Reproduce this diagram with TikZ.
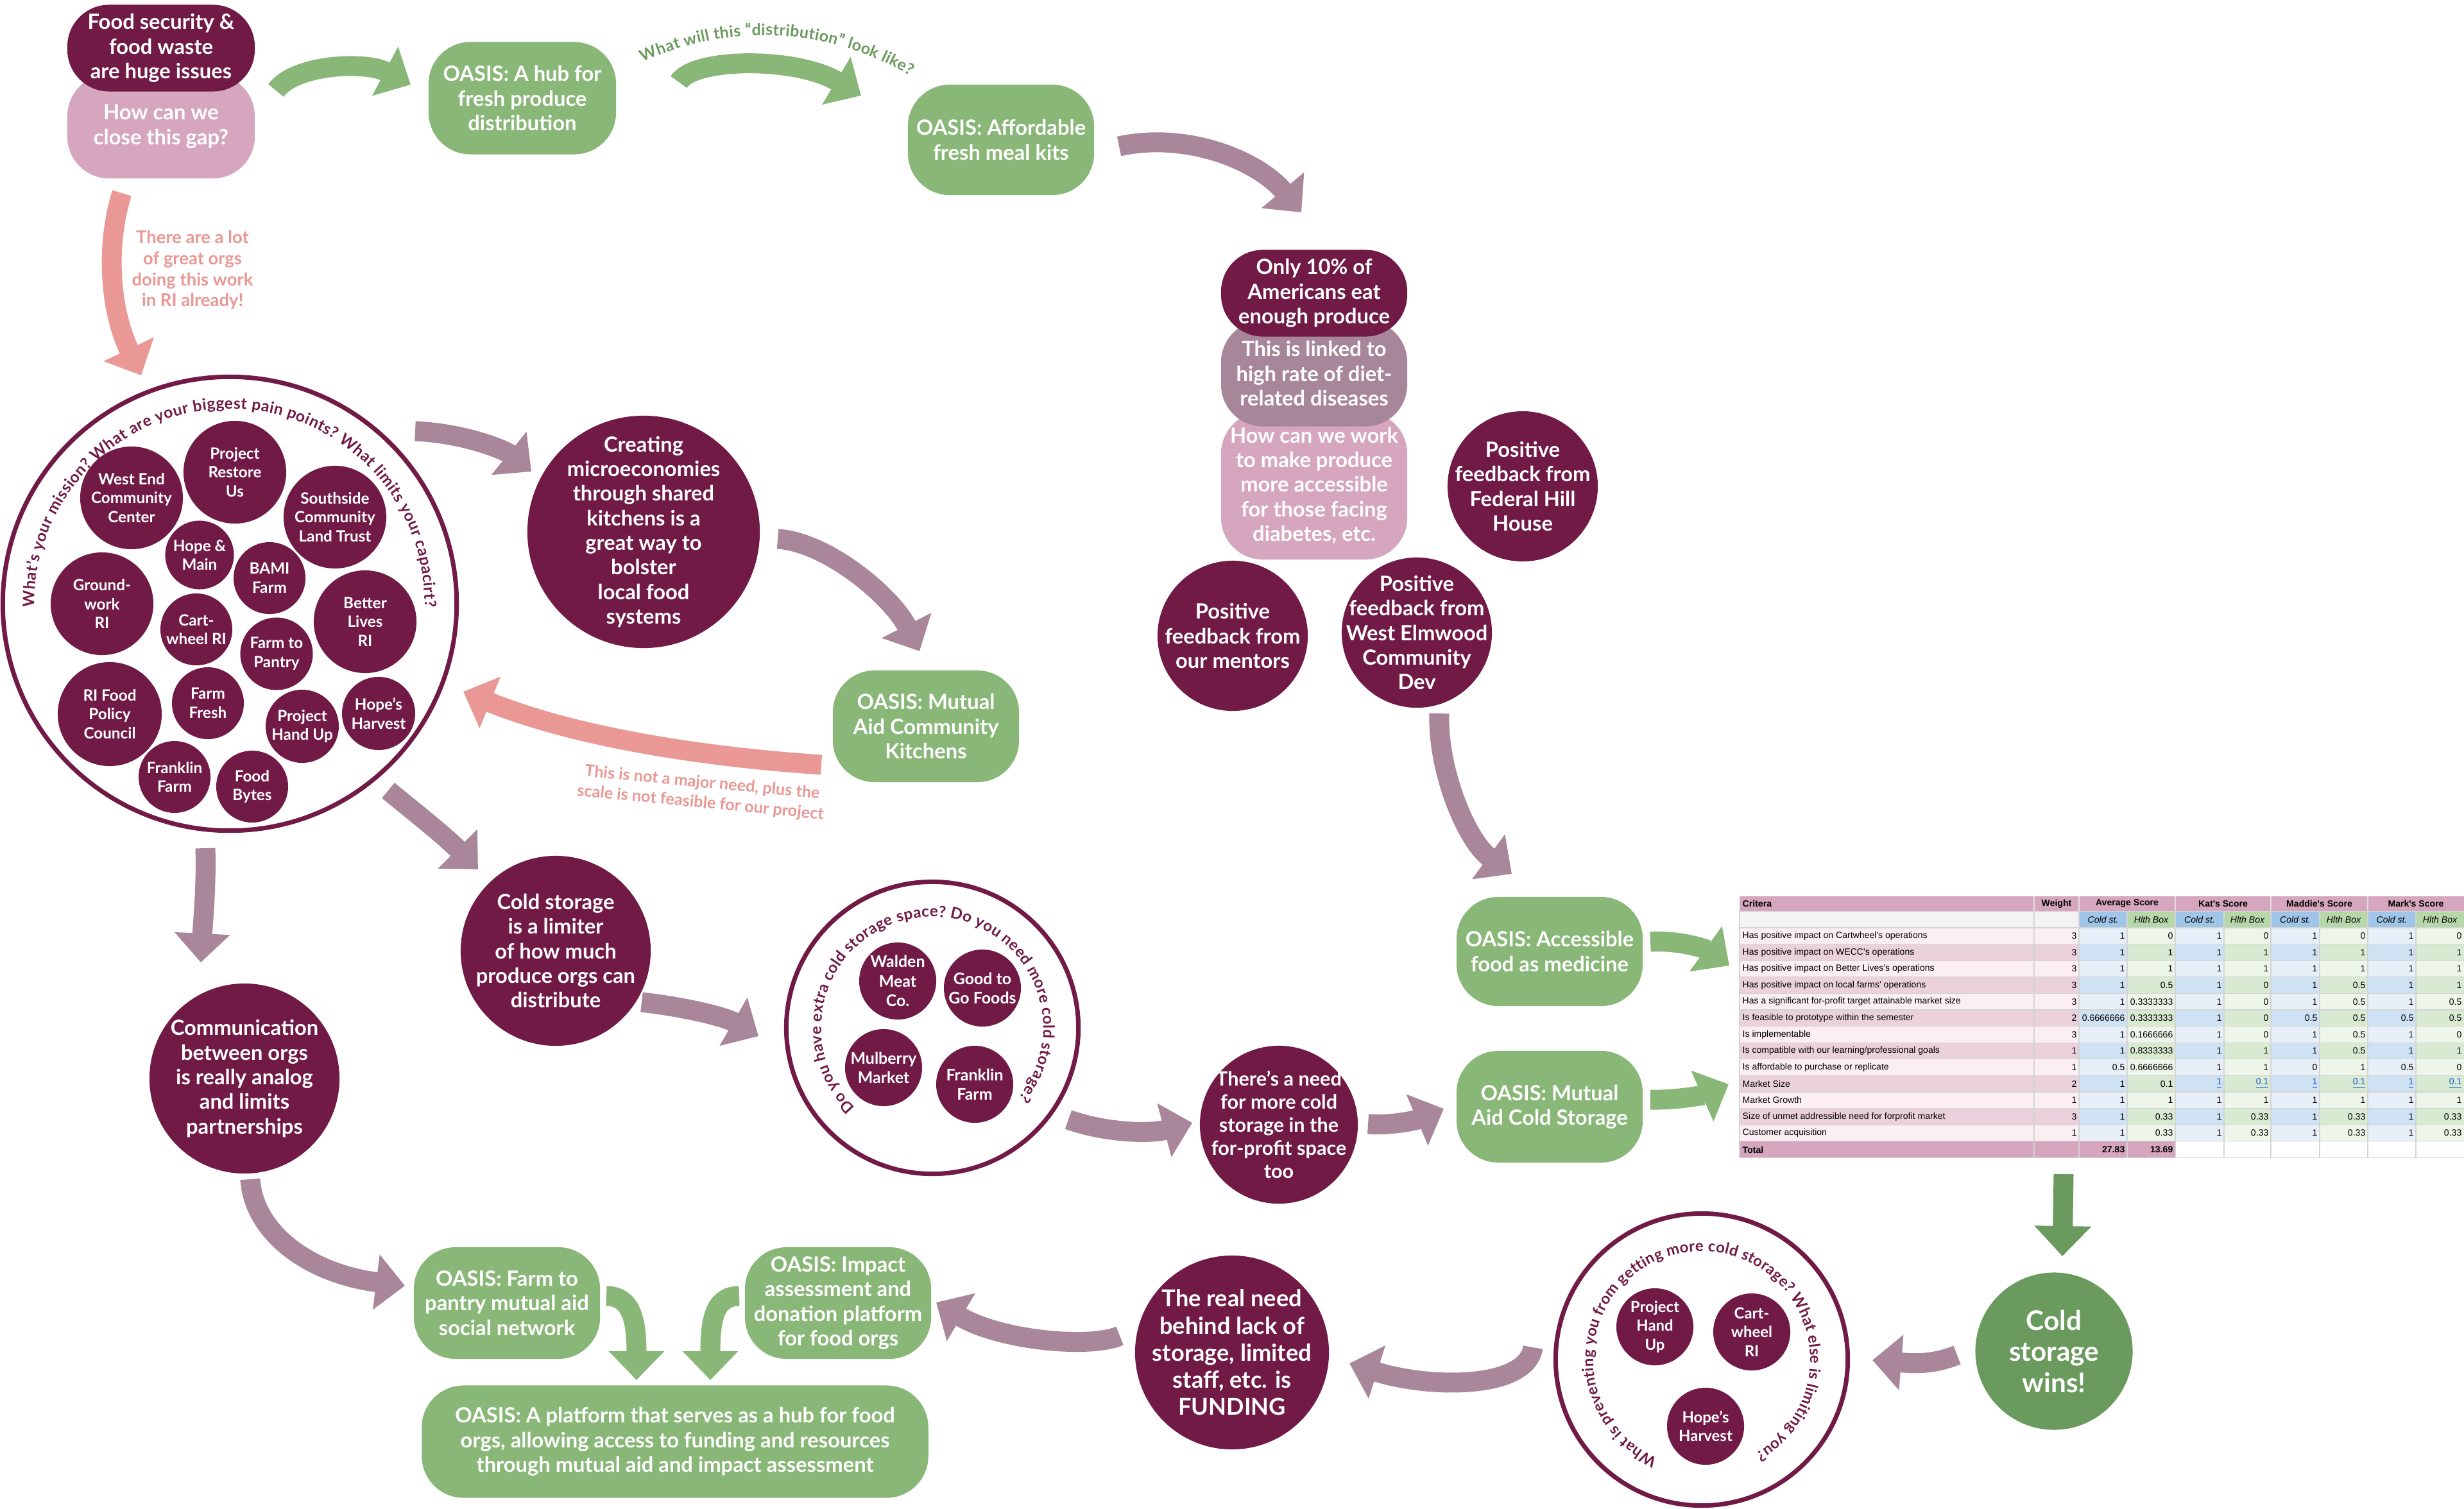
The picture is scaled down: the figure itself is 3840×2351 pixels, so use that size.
\documentclass[tikz,border=0pt]{standalone}
\usepackage{fontspec}
\setmainfont{Lato}
\newfontfamily\tblfont{Liberation Sans}
\usetikzlibrary{arrows.meta,decorations.text,calc}
\definecolor{maroon}{HTML}{701A45}
\definecolor{pinkl}{HTML}{D5A6BD}
\definecolor{mauvebox}{HTML}{A8869A}
\definecolor{arrowm}{HTML}{A98699}
\definecolor{gr}{HTML}{89B777}
\definecolor{dgr}{HTML}{6B9A5E}
\definecolor{salmon}{HTML}{E99896}
\definecolor{rowA}{HTML}{FBEFF4}
\definecolor{rowB}{HTML}{EAD1DC}
\definecolor{blA}{HTML}{E7F0F9}
\definecolor{blB}{HTML}{CFE2F3}
\definecolor{gnA}{HTML}{EEF6EA}
\definecolor{gnB}{HTML}{D9EAD3}
\definecolor{blH}{HTML}{9FC5E8}
\definecolor{gnH}{HTML}{B6D7A8}
\definecolor{subg}{HTML}{F3F3F3}
\definecolor{gridc}{HTML}{D4D4D4}
\definecolor{linkc}{HTML}{1155CC}
\newcommand\ovl[1]{#1\hskip0pt plus 1fill\relax}
\newcommand\lk[1]{\textcolor{linkc}{\underline{#1}}}
\newcommand\myfz[2]{\fontsize{#1}{#2}\selectfont\bfseries}
\pgfdeclarelayer{back}\pgfdeclarelayer{bg}\pgfsetlayers{back,bg,main}
\tikzset{
  rbox/.style={rectangle, rounded corners=0.65cm, inner sep=0pt, text=white, align=center,
    font=\myfz{9.3}{10.9}, minimum width=2.9cm, minimum height=1.74cm},
  greenbox/.style={rbox, fill=gr},
  bub/.style={circle, fill=maroon, inner sep=0pt},
  bt/.style={text=white, align=center, inner sep=0pt, font=\myfz{9.3}{10.9}},
  ot/.style={bt, font=\myfz{6.9}{8.4}},
  ring/.style={circle, draw=maroon, line width=0.07cm, inner sep=0pt},
  arr/.style={line width=0.31cm, -{Triangle[length=0.45cm,width=0.84cm]}},
  marr/.style={arr, draw=arrowm},
  garr/.style={arr, draw=gr},
  dgarr/.style={line width=0.31cm, draw=dgr, -{Triangle[length=0.47cm,width=0.86cm,color=dgr,fill=dgr]}},
  sarr/.style={arr, draw=salmon},
  tc/.style={anchor=west, inner sep=0pt, font=\tblfont\fontsize{4}{4.8}\selectfont},
  tv/.style={anchor=east, inner sep=0pt, text width=0.68cm, align=flush right, font=\tblfont\fontsize{4}{4.8}\selectfont},
  th/.style={inner sep=0pt, font=\tblfont\fontsize{4}{4.8}\selectfont\bfseries},
  ts/.style={inner sep=0pt, font=\tblfont\fontsize{4}{4.8}\selectfont\itshape},
  lab/.style={inner sep=0pt, align=center, text=salmon}
}
\begin{document}
\begin{tikzpicture}[x=0.01cm, y=-0.01cm]
\useasboundingbox (0,0) rectangle (3840,2351);
\begin{pgfonlayer}{back}\fill[white] (0,0) rectangle (3840,2351);\end{pgfonlayer}

% ---------- top left ----------
\node[rbox, fill=pinkl, minimum width=2.92cm, minimum height=1.62cm] (n2) at (251,197) {How can we\\close this gap?};
\node[rbox, fill=maroon, minimum width=2.92cm, minimum height=1.35cm] (n1) at (251,75) {Food security \&\\food waste\\are huge issues};
\node[greenbox, minimum width=2.92cm, minimum height=1.75cm] (g1) at (814,153) {OASIS: A hub for\\fresh produce\\distribution};
\node[greenbox, minimum height=1.72cm] (g2) at (1560,218) {OASIS: Affordable\\fresh meal kits};
\node[lab, font=\myfz{7.8}{9.3}] (l1) at (300,421) {There are a lot\\of great orgs\\doing this work\\in RI already!};

% ---------- stack ----------
\node[rbox, fill=pinkl, minimum height=2.3cm] (s3) at (2048,757) {How can we work\\to make produce\\more accessible\\for those facing\\diabetes, etc.};
\node[rbox, fill=mauvebox, minimum height=1.65cm] (s2) at (2048,582) {This is linked to\\high rate of diet-\\related diseases};
\node[rbox, fill=maroon, minimum height=1.35cm] (s1) at (2048,457) {Only 10\% of\\Americans eat\\enough produce};

\node[bub, minimum size=2.34cm, label={[bt]center:{Positive\\feedback from\\Federal Hill\\House}}] (fb1) at (2373,758) {};
\node[bub, minimum size=2.34cm, label={[bt]center:{Positive\\feedback from\\our mentors}}] (fb2) at (1921,991) {};
\node[bub, minimum size=2.34cm, label={[bt]center:{Positive\\feedback from\\West Elmwood\\Community\\Dev}}] (fb3) at (2208,986) {};

% ---------- big circle ----------
\node[ring, minimum size=7.07cm] (BC) at (358,941) {};
\node[bub, minimum size=1.6cm, label={[ot]center:{West End\\Community\\Center}}] (o1) at (205,776) {};
\node[bub, minimum size=1.6cm, label={[ot]center:{Project\\Restore\\Us}}] (o2) at (366,736) {};
\node[bub, minimum size=1.6cm, label={[ot]center:{Southside\\Community\\Land Trust}}] (o3) at (522,806) {};
\node[bub, minimum size=1.07cm, label={[ot]center:{Hope \&\\Main}}] (o4) at (311,865) {};
\node[bub, minimum size=1.12cm, label={[ot]center:{BAMI\\Farm}}] (o5) at (420,901) {};
\node[bub, minimum size=1.6cm, label={[ot]center:{Ground-\\work\\RI}}] (o6) at (159,941) {};
\node[bub, minimum size=1.12cm, label={[ot]center:{Cart-\\wheel RI}}] (o7) at (306,981) {};
\node[bub, minimum size=1.13cm, label={[ot]center:{Farm to\\Pantry}}] (o8) at (431,1019) {};
\node[bub, minimum size=1.6cm, label={[ot]center:{Better\\Lives\\RI}}] (o9) at (569,969) {};
\node[bub, minimum size=1.62cm, label={[ot]center:{RI Food\\Policy\\Council}}] (o10) at (171,1113) {};
\node[bub, minimum size=1.12cm, label={[ot]center:{Farm\\Fresh}}] (o11) at (324,1096) {};
\node[bub, minimum size=1.14cm, label={[ot]center:{Project\\Hand Up}}] (o12) at (471,1132) {};
\node[bub, minimum size=1.14cm, label={[ot]center:{Hope’s\\Harvest}}] (o13) at (590,1112) {};
\node[bub, minimum size=1.12cm, label={[ot]center:{Franklin\\Farm}}] (o14) at (272,1211) {};
\node[bub, minimum size=1.12cm, label={[ot]center:{Food\\Bytes}}] (o15) at (393,1226) {};
\path[decorate, decoration={text along path, text align=fit to path, text color=maroon,
  text={|\myfz{7.0}{9}|What’s your mission? What are your biggest pain points? What limits your capacirt?}}]
  ([shift={(-181:304)}]BC.center) arc[start angle=-181, end angle=1, radius=304];

% ---------- middle ----------
\node[bub, minimum size=3.62cm, label={[bt]center:{Creating\\microeconomies\\through shared\\kitchens is a\\great way to\\bolster\\local food\\systems}}] (cm) at (1003,829) {};
\node[greenbox] (mk) at (1443,1132) {OASIS: Mutual\\Aid Community\\Kitchens};
\node[lab, font=\myfz{7.2}{9}, rotate=-5.5] (l2) at (1093,1236) {This is not a major need, plus the\\scale is not feasible for our project};
\node[bub, minimum size=2.96cm, label={[bt]center:{Cold storage\\is a limiter\\of how much\\produce orgs can\\distribute}}] (cl) at (866,1482) {};
\node[bub, minimum size=2.96cm, label={[bt]center:{Communication\\between orgs\\is really analog\\and limits\\partnerships}}] (com) at (381,1681) {};

\node[ring, minimum size=4.55cm] (CS) at (1453,1602) {};
\node[bub, minimum size=1.2cm, label={[ot, font=\myfz{7.1}{8.6}]center:{Walden\\Meat\\Co.}}] (w1) at (1399,1529) {};
\node[bub, minimum size=1.2cm, label={[ot, font=\myfz{7.1}{8.6}]center:{Good to\\Go Foods}}] (w2) at (1531,1540) {};
\node[bub, minimum size=1.2cm, label={[ot, font=\myfz{7.1}{8.6}]center:{Mulberry\\Market}}] (w3) at (1377,1664) {};
\node[bub, minimum size=1.2cm, label={[ot, font=\myfz{7.1}{8.6}]center:{Franklin\\Farm}}] (w4) at (1519,1690) {};
\path[decorate, decoration={text along path, text align=fit to path, text color=maroon,
  text={|\myfz{6.9}{9}|Do you have extra cold storage space? Do you need more cold storage?}}]
  ([shift={(-226:173)}]CS.center) arc[start angle=-226, end angle=39, radius=173];

\node[bub, minimum size=2.46cm, label={[bt, font=\myfz{8.7}{10.2}]center:{There’s a need\\for more cold\\storage in the\\for-profit space\\too}}] (nd) at (1993,1753) {};
\node[greenbox, minimum height=1.70cm] (af) at (2415,1483) {OASIS: Accessible\\food as medicine};
\node[greenbox] (mc) at (2415,1725) {OASIS: Mutual\\Aid Cold Storage};

% ---------- bottom ----------
\node[bub, fill=dgr, minimum size=2.45cm, label={[bt, font=\myfz{12}{13.8}]center:{Cold\\storage\\wins!}}] (win) at (3201,2106) {};
\node[ring, minimum size=4.55cm] (C3) at (2652,2119) {};
\node[bub, minimum size=1.2cm, label={[ot, font=\myfz{6.8}{8.4}]center:{Project\\Hand\\Up}}] (p1) at (2579,2068) {};
\node[bub, minimum size=1.2cm, label={[ot, font=\myfz{6.8}{8.4}]center:{Cart-\\wheel\\RI}}] (p2) at (2730,2076) {};
\node[bub, minimum size=1.2cm, label={[ot, font=\myfz{6.8}{8.4}]center:{Hope’s\\Harvest}}] (p3) at (2658,2223) {};
\path[decorate, decoration={text along path, text align=fit to path, text color=maroon,
  text={|\myfz{6.8}{9}|What is preventing you from getting more cold storage? What else is limiting you?}}]
  ([shift={(-246:169)}]C3.center) arc[start angle=-246, end angle=60, radius=169];
\node[bub, minimum size=3.02cm, label={[bt, font=\myfz{10.3}{12}]center:{The real need\\behind lack of\\storage, limited\\staff, etc. is\\FUNDING}}] (rn) at (1920,2108) {};
\node[greenbox] (ia) at (1306,2031) {OASIS: Impact\\assessment and\\donation platform\\for food orgs};
\node[greenbox] (fp) at (790,2031) {OASIS: Farm to\\pantry mutual aid\\social network};
\node[greenbox, minimum width=7.89cm, minimum height=1.75cm] (pl) at (1052,2247) {OASIS: A platform that serves as a hub for food\\orgs, allowing access to funding and resources\\through mutual aid and impact assessment};

% ---------- green arrow label ----------
\path[decorate, decoration={text along path, text align=fit to path, text color=dgr,
  text={|\myfz{7.1}{9}|What will this “distribution” look like?}}]
  ([shift={(-115:445)}]1190,500) arc[start angle=-115, end angle=-59, radius=445];

% ---------- table ----------
\node[inner sep=0pt, minimum width=11.29cm, minimum height=4.08cm, anchor=north west] (tbl) at (2711,1397) {};
\foreach \crit/\w/\va/\vb/\vc/\vd/\ve/\vf/\vg/\vh [count=\i] in {
 Has positive impact on Cartwheel's operations/3/1/0/1/0/1/0/1/0,
 Has positive impact on WECC's operations/3/1/1/1/1/1/1/1/1,
 Has positive impact on Better Lives's operations/3/1/1/1/1/1/1/1/1,
 Has positive impact on local farms' operations/3/1/0.5/1/0/1/0.5/1/1,
 Has a significant for-profit target attainable market size/3/1/\ovl{0.3333333}/1/0/1/0.5/1/0.5,
 Is feasible to prototype within the semester/2/\ovl{0.6666666}/\ovl{0.3333333}/1/0/0.5/0.5/0.5/0.5,
 Is implementable/3/1/\ovl{0.1666666}/1/0/1/0.5/1/0,
 {Is compatible with our learning/professional goals}/1/1/\ovl{0.8333333}/1/1/1/0.5/1/1,
 Is affordable to purchase or replicate/1/0.5/\ovl{0.6666666}/1/1/0/1/0.5/0,
 Market Size/2/1/0.1/\lk{1}/\lk{0.1}/\lk{1}/\lk{0.1}/\lk{1}/\lk{0.1},
 Market Growth/1/\ovl{\hspace*{0.12cm}1}/\ovl{\hspace*{0.12cm}1}/1/1/1/1/1/1,
 Size of unmet addressible need for forprofit market/3/1/0.33/1/0.33/1/0.33/1/0.33,
 Customer acquisition/1/1/0.33/1/0.33/1/0.33/1/0.33}{
  \pgfmathsetmacro\yt{1446+(\i-1)*25.6}
  \pgfmathsetmacro\yb{\yt+25.6}
  \pgfmathsetmacro\yc{\yt+12.8}
  \ifodd\i\relax \def\cp{rowA}\def\cb{blA}\def\cg{gnA}\else \def\cp{rowB}\def\cb{blB}\def\cg{gnB}\fi
  \fill[\cp] (2711,\yt) rectangle (3240,\yb);
  \foreach \xl/\xr in {3240/3315,3390/3466,3539/3615,3690/3765} \fill[\cb] (\xl,\yt) rectangle (\xr,\yb);
  \foreach \xl/\xr in {3315/3390,3466/3539,3615/3690,3765/3840} \fill[\cg] (\xl,\yt) rectangle (\xr,\yb);
  \node[tc] at (2715,\yc) {\crit};
  \node[tv] at (3237,\yc) {\w};
  \node[tv] at (3312,\yc) {\va};
  \node[tv] at (3387,\yc) {\vb};
  \node[tv] at (3463,\yc) {\vc};
  \node[tv] at (3536,\yc) {\vd};
  \node[tv] at (3612,\yc) {\ve};
  \node[tv] at (3687,\yc) {\vf};
  \node[tv] at (3762,\yc) {\vg};
  \node[tv] at (3837,\yc) {\vh};
}
\fill[pinkl] (2711,1779) rectangle (3390,1805);
\fill[subg] (2711,1420) rectangle (3240,1446);
\foreach \xl/\xr in {3240/3315,3390/3466,3539/3615,3690/3765} \fill[blH] (\xl,1420) rectangle (\xr,1446);
\foreach \xl/\xr in {3315/3390,3466/3539,3615/3690,3765/3840} \fill[gnH] (\xl,1420) rectangle (\xr,1446);
\foreach \x in {2711,3170,3240,3315,3390,3466,3539,3615,3690,3765} \draw[gridc, line width=0.012cm] (\x,1420) -- (\x,1805);
\foreach \k in {0,...,14} \draw[gridc, line width=0.012cm] (2711,1446+\k*25.6) -- (3840,1446+\k*25.6);
\draw[gridc, line width=0.012cm] (2711,1420) -- (3840,1420);
\fill[pinkl] (2711,1397) rectangle (3840,1420);
\foreach \x in {3170,3240,3390,3539,3690} \draw[white!75!gray, line width=0.012cm] (\x,1397) -- (\x,1420);
\node[th, anchor=west] at (2715,1408.5) {Critera};
\node[th] at (3205,1408.5) {Weight};
\node[th] at (3315,1408.5) {Average Score};
\node[th] at (3464.5,1408.5) {Kat's Score};
\node[th] at (3614.5,1408.5) {Maddie's Score};
\node[th] at (3765,1408.5) {Mark's Score};
\foreach \xm in {3277.5,3428,3577,3727.5} \node[ts] at (\xm,1433) {Cold st.};
\foreach \xm in {3352.5,3502.5,3652.5,3802.5} \node[ts] at (\xm,1433) {Hlth Box};
\node[th, anchor=west] at (2715,1792) {Total};
\node[th, anchor=east] at (3312,1792) {27.83};
\node[th, anchor=east] at (3387,1792) {13.69};

% ---------- arrows ----------
\begin{pgfonlayer}{bg}
\draw[garr] ([shift={(179,66)}]n1.center) .. controls +(30,-41) and +(-70,-37) .. ([shift={(-174,-21)}]g1.center);
\draw[garr] ([shift={(244,-25)}]g1.center) .. controls +(22,-38) and +(-102,-61) .. ([shift={(-218,-69)}]g2.center);
\draw[marr] ([shift={(184,10)}]g2.center) .. controls +(106,-23) and +(-68,-81) .. ([shift={(-20,-126)}]s1.center);
\draw[sarr] ([shift={(-61,104)}]n2.center) .. controls +(-25,80) and +(-50,-105) .. ([shift={(-138,-356)}]BC.center);
\draw[marr] ([shift={(289,-269)}]BC.center) .. controls +(73,3) and +(-43,-35) .. ([shift={(-175,-94)}]cm.center);
\draw[marr] ([shift={(209,11)}]cm.center) .. controls +(78,5) and +(-43,-85) .. ([shift={(-10,-117)}]mk.center);
\draw[sarr] ([shift={(-163,60)}]mk.center) .. controls +(-180,-12) and +(178,72) .. ([shift={(364,137)}]BC.center);
\draw[marr] ([shift={(247,291)}]BC.center) .. controls +(40,33) and +(-55,-55) .. ([shift={(-121,-127)}]cl.center);
\draw[marr] ([shift={(-38,381)}]BC.center) .. controls +(2,58) and +(3,-60) .. ([shift={(-68,-181)}]com.center);
\draw[marr] ([shift={(134,80)}]cl.center) .. controls +(70,8) and +(-52,-30) .. ([shift={(-271,13)}]CS.center);
\draw[marr] ([shift={(212,143)}]CS.center) .. controls +(55,20) and +(-68,18) .. ([shift={(-135,-3)}]nd.center);
\draw[marr] ([shift={(139,-1)}]nd.center) .. controls +(38,3) and +(-40,17) .. ([shift={(-165,3)}]mc.center);
\draw[marr] ([shift={(35,126)}]fb3.center) .. controls +(-3,88) and +(-71,-52) .. ([shift={(-59,-121)}]af.center);
\draw[garr] ([shift={(157,-15)}]af.center) .. controls +(48,-3) and +(-35,-25) .. ([shift={(-16,108)}]tbl.north west);
\draw[garr] ([shift={(157,-11)}]mc.center) .. controls +(48,1) and +(-34,15) .. ([shift={(-17,293)}]tbl.north west);
\draw[dgarr] ([shift={(505,433)}]tbl.north west) -- ([shift={(13,-148)}]win.center);
\draw[marr] ([shift={(-151,6)}]win.center) .. controls +(-40,16) and +(62,5) .. ([shift={(266,1)}]C3.center);
\draw[marr] ([shift={(-263,-19)}]C3.center) .. controls +(-9,65) and +(127,40) .. ([shift={(183,17)}]rn.center);
\draw[marr] ([shift={(-175,-26)}]rn.center) .. controls +(-45,20) and +(101,60) .. ([shift={(153,-1)}]ia.center);
\draw[marr] ([shift={(9,157)}]com.center) .. controls +(5,82) and +(-151,-19) .. ([shift={(-159,-27)}]fp.center);
\draw[garr] ([shift={(155,-11)}]fp.center) .. controls +(40,0) and +(0,-91) .. ([shift={(-60,-96)}]pl.center);
\draw[garr] ([shift={(-154,-11)}]ia.center) .. controls +(-40,0) and +(0,-91) .. ([shift={(55,-96)}]pl.center);
\end{pgfonlayer}
\end{tikzpicture}
\end{document}
